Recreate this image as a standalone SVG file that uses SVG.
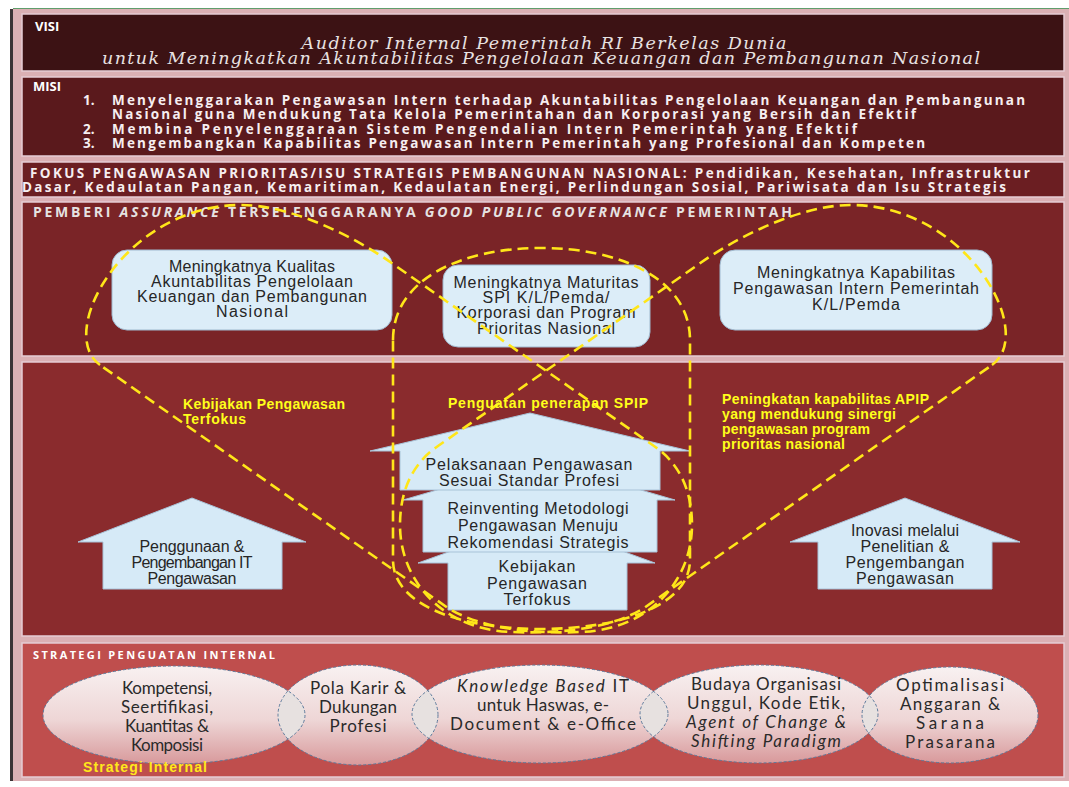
<svg xmlns="http://www.w3.org/2000/svg" width="1069" height="787" viewBox="0 0 1069 787">
<defs>
<style>
.panel{stroke:#e6ccd4;stroke-width:1.5}
.hdr{font-family:"Open Sans","Liberation Sans",sans-serif;font-weight:bold;fill:#ffffff}
.misi{font-family:"Open Sans","Liberation Sans",sans-serif;font-weight:bold;font-size:13.5px;fill:#f6eef0}
.visi{font-family:"DejaVu Serif","Liberation Serif",serif;font-style:italic;font-size:17.5px;fill:#e8e2e2;text-anchor:middle}
.box{fill:#dcedf8;stroke:#9fb9cf;stroke-width:1}
.arrow{fill:#d6eaf7;stroke:#a8c3d8;stroke-width:1}
.bt{font-family:"Liberation Sans",Arial,sans-serif;font-size:16px;fill:#262626;text-anchor:middle}
.yl{font-family:"Liberation Sans",Arial,sans-serif;font-weight:bold;font-size:14px;fill:#ffff1a}
.dash{fill:none;stroke:#ffe619;stroke-width:2.6;stroke-dasharray:11 6}
.ell{stroke:#5d7b9c;stroke-width:1;stroke-dasharray:3 2}
.lens{fill:#e7e1e0}
.et{font-family:"Lato","Liberation Sans",sans-serif;font-size:17px;fill:#2a2a2a;text-anchor:middle}
</style>
<linearGradient id="eg" x1="0" y1="0" x2="0" y2="1">
<stop offset="0" stop-color="#f8f1f1"/>
<stop offset="0.55" stop-color="#eed6d6"/>
<stop offset="1" stop-color="#d8999b"/>
</linearGradient>
<clipPath id="c1"><ellipse cx="174" cy="715" rx="131" ry="49"/></clipPath>
<clipPath id="c2"><ellipse cx="358" cy="715" rx="80" ry="50"/></clipPath>
<clipPath id="c3"><ellipse cx="540" cy="714" rx="128" ry="49"/></clipPath>
<clipPath id="c4"><ellipse cx="759" cy="714" rx="119" ry="49"/></clipPath>
<path id="loop" d="M 100,365 C 55,333 125,205 241,205 C 290,205 352,235 393,264 L 654,446 C 679,463 692,490 692,525 C 692,580 650,630 580,632 C 530,634 480,628 448,608 Z"/>
</defs>

<rect x="0" y="0" width="1069" height="787" fill="#ffffff"/>
<rect x="13" y="9" width="1056" height="772" fill="#dbb0b4"/>
<line x1="11.5" y1="9" x2="11.5" y2="781" stroke="#3b3335" stroke-width="3"/>
<line x1="13" y1="8.5" x2="1069" y2="8.5" stroke="#5f9e6c" stroke-width="1.2"/>

<g id="visi">
<rect class="panel" x="22" y="14" width="1042" height="57" fill="#3c1214"/>
<text class="hdr" x="35" y="31" font-size="13">VISI</text>
<text class="visi" x="544" y="49" textLength="485">Auditor Internal Pemerintah RI Berkelas Dunia</text>
<text class="visi" x="541" y="64" textLength="878">untuk Meningkatkan Akuntabilitas Pengelolaan Keuangan dan Pembangunan Nasional</text>
</g>

<g id="misi">
<rect class="panel" x="22" y="77" width="1042" height="79" fill="#5a191c"/>
<text class="hdr" x="33" y="91" font-size="13">MISI</text>
<text class="misi" x="83" y="105">1.</text>
<text class="misi" x="112" y="105" textLength="913">Menyelenggarakan Pengawasan Intern terhadap Akuntabilitas Pengelolaan Keuangan dan Pembangunan</text>
<text class="misi" x="112" y="119" textLength="804">Nasional guna  Mendukung Tata Kelola  Pemerintahan dan Korporasi yang Bersih dan Efektif</text>
<text class="misi" x="83" y="134">2.</text>
<text class="misi" x="112" y="134" textLength="745">Membina Penyelenggaraan Sistem Pengendalian Intern Pemerintah yang Efektif</text>
<text class="misi" x="83" y="148">3.</text>
<text class="misi" x="112" y="148" textLength="813">Mengembangkan Kapabilitas Pengawasan Intern Pemerintah yang Profesional dan Kompeten</text>
</g>

<g id="fokus">
<rect class="panel" x="22" y="162" width="1042" height="35" fill="#6b1e22"/>
<text class="misi" x="30" y="178" textLength="1000">FOKUS PENGAWASAN  PRIORITAS/ISU STRATEGIS PEMBANGUNAN NASIONAL: Pendidikan, Kesehatan, Infrastruktur</text>
<text class="misi" x="22" y="192" textLength="984">Dasar, Kedaulatan Pangan, Kemaritiman,  Kedaulatan Energi, Perlindungan Sosial, Pariwisata dan Isu Strategis</text>
</g>

<g id="panel-assurance">
<rect class="panel" x="22" y="202" width="1042" height="154" fill="#7a2427"/>
<text class="misi" x="33" y="217" textLength="759" style="fill:#e6e2e2;font-size:14px">PEMBERI <tspan font-style="italic">ASSURANCE</tspan> TERSELENGGARANYA <tspan font-style="italic">GOOD PUBLIC GOVERNANCE</tspan> PEMERINTAH</text>
</g>

<g id="panel-strategy">
<rect class="panel" x="22" y="362" width="1042" height="274" fill="#8a2b2d"/>
</g>

<g id="panel-internal">
<rect class="panel" x="22" y="643" width="1042" height="134" fill="#bf4e4d"/>
<text class="hdr" x="33" y="659" font-size="11" textLength="242">STRATEGI PENGUATAN  INTERNAL</text>
</g>

<g id="box-akuntabilitas">
<rect class="box" x="112" y="250" width="280" height="80" rx="15"/>
<text class="bt" x="252" y="272" textLength="166">Meningkatnya Kualitas</text>
<text class="bt" x="252" y="287" textLength="202">Akuntabilitas Pengelolaan</text>
<text class="bt" x="252" y="302" textLength="230">Keuangan dan Pembangunan</text>
<text class="bt" x="252" y="317" textLength="72">Nasional</text>
</g>

<g id="box-maturitas">
<rect class="box" x="443" y="265" width="207" height="82" rx="15"/>
<text class="bt" x="546" y="288" textLength="185">Meningkatnya Maturitas</text>
<text class="bt" x="546" y="303" textLength="127">SPI K/L/Pemda/</text>
<text class="bt" x="546" y="318" textLength="179">Korporasi dan Program</text>
<text class="bt" x="546" y="334" textLength="138">Prioritas Nasional</text>
</g>

<g id="box-kapabilitas">
<rect class="box" x="720" y="250" width="272" height="80" rx="15"/>
<text class="bt" x="856" y="278" textLength="198">Meningkatnya Kapabilitas</text>
<text class="bt" x="856" y="294" textLength="246">Pengawasan Intern Pemerintah</text>
<text class="bt" x="856" y="310" textLength="88">K/L/Pemda</text>
</g>

<g id="arrow-it">
<polygon class="arrow" points="192,498 306,542 282,542 282,589 103,589 103,542 78,542"/>
<text class="bt" x="192" y="552" textLength="105">Penggunaan &amp;</text>
<text class="bt" x="192" y="568" textLength="121">Pengembangan IT</text>
<text class="bt" x="192" y="584" textLength="89">Pengawasan</text>
</g>

<g id="arrow-inovasi">
<polygon class="arrow" points="905,498 1020,542 992,542 992,589 818,589 818,542 790,542"/>
<text class="bt" x="905" y="536" textLength="108">Inovasi melalui</text>
<text class="bt" x="905" y="552" textLength="89">Penelitian &amp;</text>
<text class="bt" x="905" y="568" textLength="119">Pengembangan</text>
<text class="bt" x="905" y="584" textLength="98">Pengawasan</text>
</g>

<g id="arrow-kebijakan">
<polygon class="arrow" points="537,520 655,563 627,563 627,610 448,610 448,563 418,563"/>
<text class="bt" x="537" y="572" textLength="77">Kebijakan</text>
<text class="bt" x="537" y="589" textLength="100">Pengawasan</text>
<text class="bt" x="537" y="605" textLength="67">Terfokus</text>
</g>

<g id="arrow-reinventing">
<polygon class="arrow" points="539,460 675,500 657,500 657,552 423,552 423,500 403,500"/>
<text class="bt" x="538" y="514" textLength="181">Reinventing Metodologi</text>
<text class="bt" x="538" y="531" textLength="160">Pengawasan Menuju</text>
<text class="bt" x="538" y="548" textLength="181">Rekomendasi Strategis</text>
</g>

<g id="arrow-pelaksanaan">
<polygon class="arrow" points="530,413 690,451 660,451 660,490 400,490 400,451 370,451"/>
<text class="bt" x="529" y="470" textLength="207">Pelaksanaan Pengawasan</text>
<text class="bt" x="529" y="486" textLength="180">Sesuai Standar Profesi</text>
</g>

<g id="connectors">
<use href="#loop" class="dash"/>
<use href="#loop" class="dash" transform="matrix(-1 0 0 1 1092 0)"/>
<path class="dash" d="M 393,340 C 393,280 460,248 541,248 C 622,248 690,280 690,340 L 690,560 C 690,605 622,629 541,629 C 460,629 393,605 393,560 Z"/>
</g>

<g id="labels">
<text class="yl" x="183" y="409" textLength="162">Kebijakan Pengawasan</text>
<text class="yl" x="183" y="424" textLength="63">Terfokus</text>
<text class="yl" x="448" y="408" textLength="200">Penguatan penerapan SPIP</text>
<text class="yl" x="722" y="404" textLength="207">Peningkatan kapabilitas APIP</text>
<text class="yl" x="722" y="419" textLength="174">yang mendukung sinergi</text>
<text class="yl" x="722" y="434" textLength="148">pengawasan program</text>
<text class="yl" x="722" y="449" textLength="123">prioritas nasional</text>
</g>

<g id="ellipses">
<ellipse cx="174" cy="715" rx="131" ry="49" fill="url(#eg)"/>
<ellipse cx="358" cy="715" rx="80" ry="50" fill="url(#eg)"/>
<ellipse cx="540" cy="714" rx="128" ry="49" fill="url(#eg)"/>
<ellipse cx="759" cy="714" rx="119" ry="49" fill="url(#eg)"/>
<ellipse cx="950" cy="715" rx="88" ry="48" fill="url(#eg)"/>
<ellipse class="lens" cx="358" cy="715" rx="80" ry="50" clip-path="url(#c1)"/>
<ellipse class="lens" cx="540" cy="714" rx="128" ry="49" clip-path="url(#c2)"/>
<ellipse class="lens" cx="759" cy="714" rx="119" ry="49" clip-path="url(#c3)"/>
<ellipse class="lens" cx="950" cy="715" rx="88" ry="48" clip-path="url(#c4)"/>
<ellipse class="ell" cx="174" cy="715" rx="131" ry="49" fill="none"/>
<ellipse class="ell" cx="358" cy="715" rx="80" ry="50" fill="none"/>
<ellipse class="ell" cx="540" cy="714" rx="128" ry="49" fill="none"/>
<ellipse class="ell" cx="759" cy="714" rx="119" ry="49" fill="none"/>
<ellipse class="ell" cx="950" cy="715" rx="88" ry="48" fill="none"/>
</g>

<g id="node-kompetensi">
<text class="et" x="167" y="694" textLength="90">Kompetensi,</text>
<text class="et" x="167" y="713" textLength="92">Seertifikasi,</text>
<text class="et" x="167" y="732" textLength="84">Kuantitas &amp;</text>
<text class="et" x="167" y="751" textLength="72">Komposisi</text>
</g>
<g id="node-polakarir">
<text class="et" x="358" y="694" textLength="96">Pola Karir &amp;</text>
<text class="et" x="358" y="713" textLength="78">Dukungan</text>
<text class="et" x="358" y="732" textLength="57">Profesi</text>
</g>
<g id="node-knowledge">
<text class="et" x="543" y="692" textLength="172"><tspan font-style="italic">Knowledge Based</tspan> IT</text>
<text class="et" x="543" y="711" textLength="132">untuk  Haswas, e-</text>
<text class="et" x="543" y="730" textLength="186">Document &amp; e-Office</text>
</g>
<g id="node-budaya">
<text class="et" x="766" y="690" textLength="150">Budaya Organisasi</text>
<text class="et" x="766" y="709" textLength="158">Unggul, Kode Etik,</text>
<text class="et" x="766" y="728" textLength="160" font-style="italic">Agent of Change &amp;</text>
<text class="et" x="766" y="747" textLength="150" font-style="italic">Shifting Paradigm</text>
</g>
<g id="node-optimalisasi">
<text class="et" x="950" y="691" textLength="108">Optimalisasi</text>
<text class="et" x="950" y="710" textLength="100">Anggaran &amp;</text>
<text class="et" x="950" y="729" textLength="68">Sarana</text>
<text class="et" x="950" y="748" textLength="90">Prasarana</text>
</g>
<text class="yl" x="83" y="772" textLength="124" style="fill:#ffe81a">Strategi Internal</text>
</svg>
